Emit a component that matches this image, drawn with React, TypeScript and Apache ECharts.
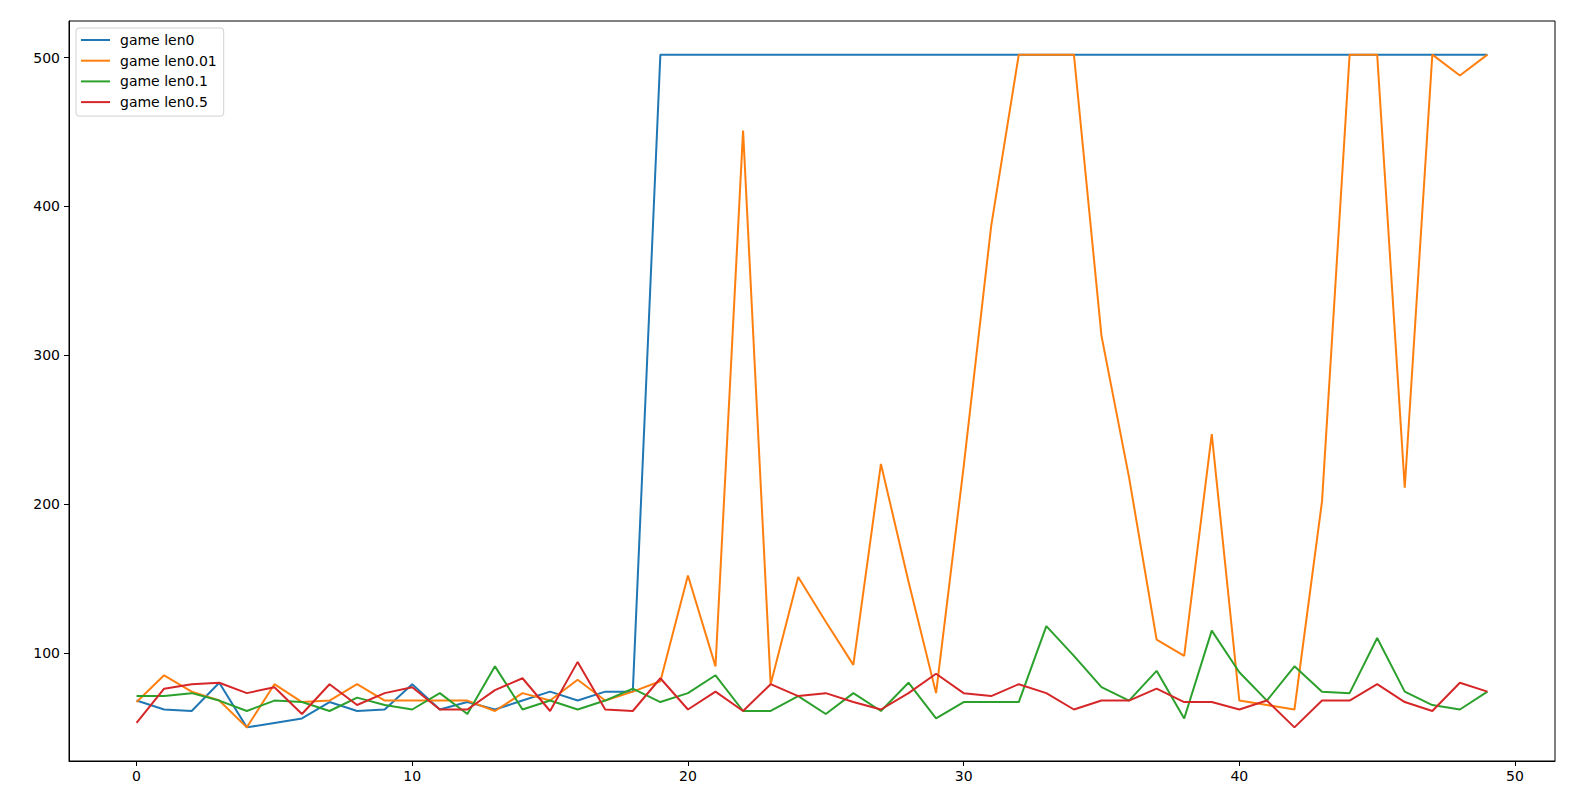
import React, { useEffect, useRef } from "react";
import * as echarts from "echarts";

const seriesNames = ["game len0", "game len0.01", "game len0.1", "game len0.5"];
const seriesColors = ["#1f77b4", "#ff7f0e", "#2ca02c", "#d62728"];

const len0 = [
  68, 62, 61, 80, 50, 53, 56, 67, 61, 62, 79, 62, 67, 62, 68, 74, 68, 74, 74, 502,
  502, 502, 502, 502, 502, 502, 502, 502, 502, 502, 502, 502, 502, 502, 502, 502,
  502, 502, 502, 502, 502, 502, 502, 502, 502, 502, 502, 502, 502, 502,
];
const len001 = [
  67, 85, 74, 68, 50, 79, 67, 68, 79, 68, 68, 68, 68, 61, 73, 68, 82, 68, 74, 81,
  152, 91, 451, 79, 151, 121, 92, 227, 148, 73, 225, 387, 502, 502, 502, 313, 218,
  109, 98, 247, 68, 65, 62, 202, 502, 502, 211, 502, 488, 502,
];
const len01 = [
  71, 71, 73, 68, 61, 68, 67, 61, 70, 65, 62, 73, 59, 91, 62, 68, 62, 68, 76, 67,
  73, 85, 61, 61, 71, 59, 73, 61, 80, 56, 67, 67, 67, 118, 98, 77, 68, 88, 56, 115,
  87, 68, 91, 74, 73, 110, 74, 65, 62, 74,
];
const len05 = [
  53, 76, 79, 80, 73, 77, 59, 79, 65, 73, 77, 62, 62, 75, 83, 61, 94, 62, 61, 83,
  62, 74, 61, 79, 71, 73, 67, 62, 73, 86, 73, 71, 79, 73, 62, 68, 68, 76, 67, 67,
  62, 68, 50, 68, 68, 79, 67, 61, 80, 74,
];
const allSeries = [len0, len001, len01, len05];

const xTicks = [0, 10, 20, 30, 40, 50];
const yTicks = [100, 200, 300, 400, 500];

const FONT = "DejaVu Sans";

export default function App() {
  const ref = useRef<HTMLDivElement>(null);
  useEffect(() => {
    if (!ref.current) return;
    const chart = echarts.init(ref.current, null, { renderer: "svg" });
    chart.setOption({
      animation: false,
      backgroundColor: "#ffffff",
      grid: {
        left: 69,
        right: 28,
        top: 21,
        bottom: 41,
        show: true,
        borderColor: "#000000",
        borderWidth: 1,
        backgroundColor: "transparent",
      },
      legend: {
        orient: "vertical",
        left: 76,
        top: 28,
        data: seriesNames,
        itemWidth: 29,
        itemHeight: 14,
        itemGap: 6.7,
        padding: [5, 7, 7, 4],
        borderColor: "#d0d0d0",
        borderWidth: 1,
        borderRadius: 3,
        backgroundColor: "#ffffff",
        itemStyle: { opacity: 0 },
        lineStyle: { width: 2 },
        textStyle: {
          fontFamily: FONT,
          fontSize: 14,
          color: "#000000",
          padding: [0, 0, 0, 5],
        },
      },
      xAxis: {
        type: "value",
        min: -2.45,
        max: 51.45,
        axisLine: { show: true, onZero: false, lineStyle: { color: "#000000", width: 1 } },
        axisTick: {
          show: true,
          length: 5,
          customValues: xTicks,
          lineStyle: { color: "#000000", width: 1 },
        },
        axisLabel: {
          customValues: xTicks,
          color: "#000000",
          fontFamily: FONT,
          fontSize: 14,
          margin: 8,
        },
        splitLine: { show: false },
      },
      yAxis: {
        type: "value",
        min: 27.4,
        max: 524.6,
        axisLine: { show: true, onZero: false, lineStyle: { color: "#000000", width: 1 } },
        axisTick: {
          show: true,
          length: 5,
          customValues: yTicks,
          lineStyle: { color: "#000000", width: 1 },
        },
        axisLabel: {
          customValues: yTicks,
          color: "#000000",
          fontFamily: FONT,
          fontSize: 14,
          margin: 9,
        },
        splitLine: { show: false },
      },
      series: allSeries.map((arr, k) => ({
        name: seriesNames[k],
        type: "line",
        symbol: "none",
        showSymbol: false,
        data: arr.map((v, i) => [i, v]),
        color: seriesColors[k],
        lineStyle: { color: seriesColors[k], width: 2 },
        z: 2 + k,
      })),
    });
    return () => chart.dispose();
  }, []);
  return (
    <div
      ref={ref}
      style={{ position: "fixed", left: 0, top: 0, width: 1583, height: 802 }}
    />
  );
}
